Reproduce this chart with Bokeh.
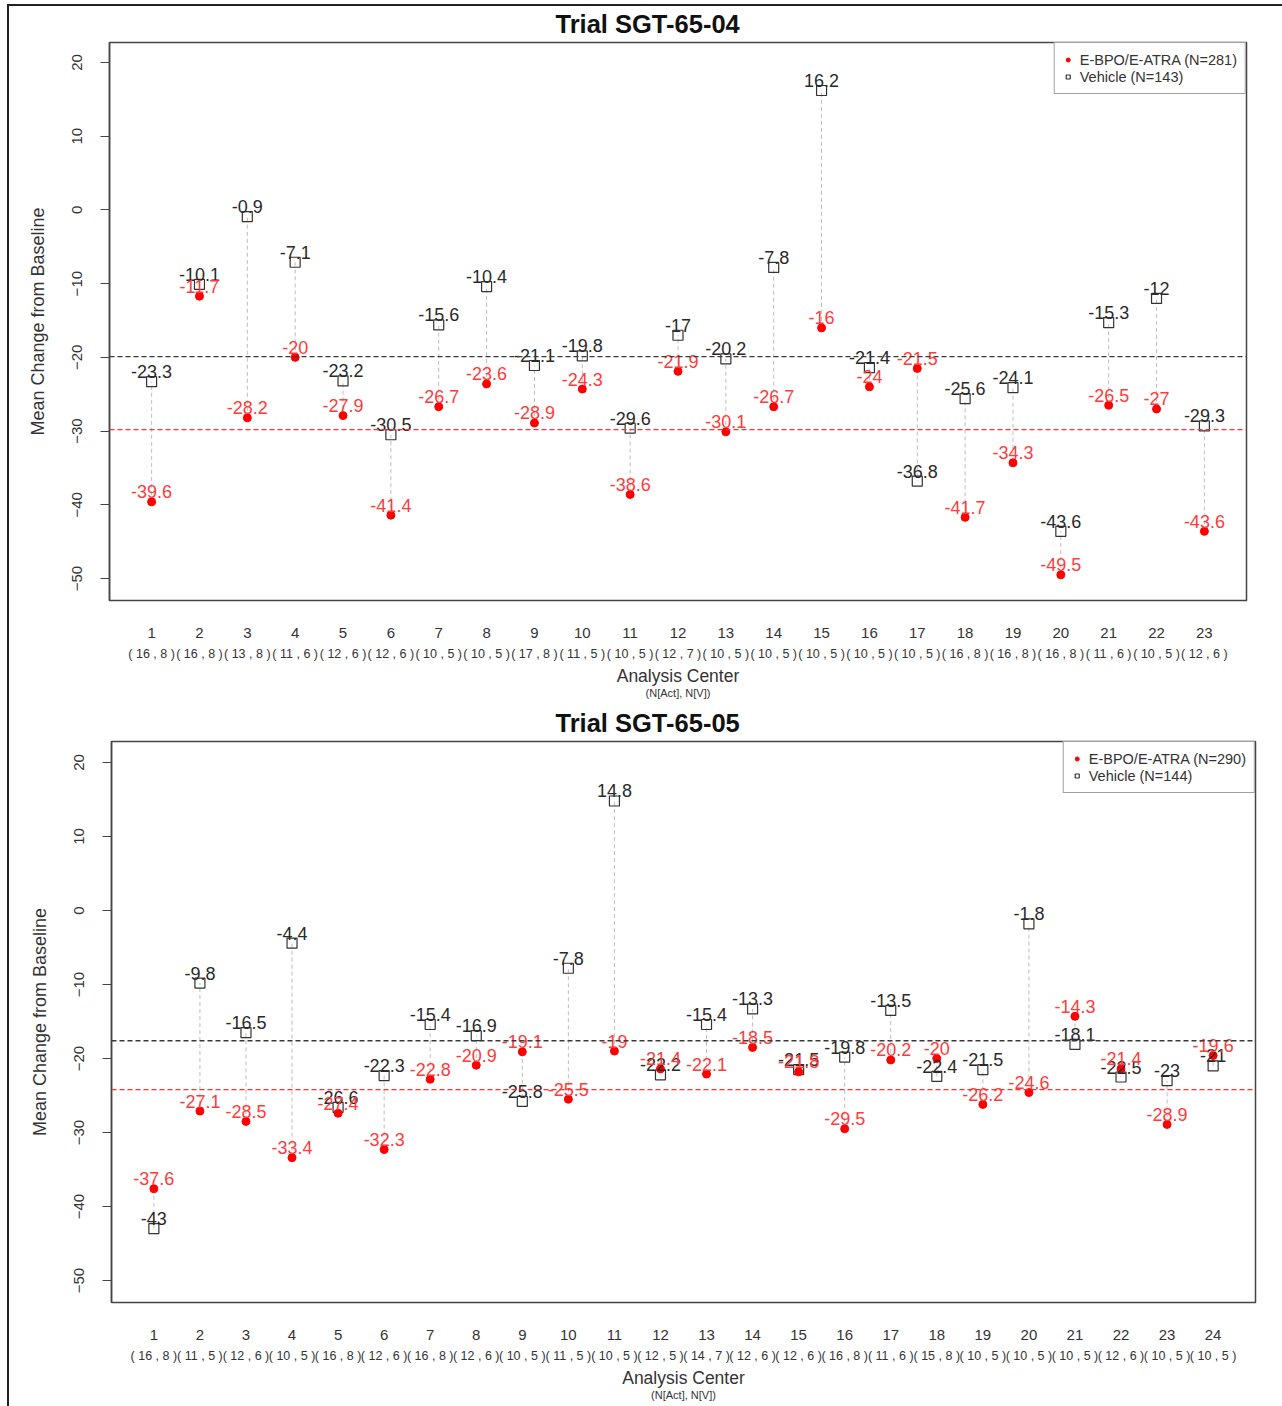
from bokeh.plotting import figure
from bokeh.models import (Range1d, FixedTicker, LinearAxis, Span, Legend,
                          LegendItem, ColumnDataSource)
from bokeh.layouts import column, row
from bokeh.embed import file_html
from bokeh.resources import INLINE
from bokeh.core.properties import value

# ---------------- Trial SGT-65-04 ----------------
centers_04 = list(range(1, 24))
act_04 = [-39.6, -11.7, -28.2, -20, -27.9, -41.4, -26.7, -23.6, -28.9, -24.3,
          -38.6, -21.9, -30.1, -26.7, -16, -24, -21.5, -41.7, -34.3, -49.5,
          -26.5, -27, -43.6]
veh_04 = [-23.3, -10.1, -0.9, -7.1, -23.2, -30.5, -15.6, -10.4, -21.1, -19.8,
          -29.6, -17, -20.2, -7.8, 16.2, -21.4, -36.8, -25.6, -24.1, -43.6,
          -15.3, -12, -29.3]
n_act_04 = [16, 16, 13, 11, 12, 12, 10, 10, 17, 11, 10, 12, 10, 10, 10, 10, 10,
            16, 16, 16, 11, 10, 12]
n_veh_04 = [8, 8, 8, 6, 6, 6, 5, 5, 8, 5, 5, 7, 5, 5, 5, 5, 5, 8, 8, 8, 6, 5, 6]
act_mean_04 = -29.8
veh_mean_04 = -19.9
act_total_04 = 281
veh_total_04 = 143

# ---------------- Trial SGT-65-05 ----------------
centers_05 = list(range(1, 25))
act_05 = [-37.6, -27.1, -28.5, -33.4, -27.4, -32.3, -22.8, -20.9, -19.1, -25.5,
          -19, -21.4, -22.1, -18.5, -21.8, -29.5, -20.2, -20, -26.2, -24.6,
          -14.3, -21.4, -28.9, -19.6]
veh_05 = [-43, -9.8, -16.5, -4.4, -26.6, -22.3, -15.4, -16.9, -25.8, -7.8,
          14.8, -22.2, -15.4, -13.3, -21.5, -19.8, -13.5, -22.4, -21.5, -1.8,
          -18.1, -22.5, -23, -21]
n_act_05 = [16, 11, 12, 10, 16, 12, 16, 12, 10, 11, 10, 12, 14, 12, 12, 16, 11,
            15, 10, 10, 10, 12, 10, 10]
n_veh_05 = [8, 5, 6, 5, 8, 6, 8, 6, 5, 5, 5, 5, 7, 6, 6, 8, 6, 8, 5, 5, 5, 6, 5, 5]
act_mean_05 = -24.2
veh_mean_05 = -17.6
act_total_05 = 290
veh_total_05 = 144

y_ticks = [-50, -40, -30, -20, -10, 0, 10, 20]

FONT = value("Liberation Sans")
DARK = "#333333"
RED = "#ff0000"
RED_TXT = "#ff3b3b"


def fmt(v):
    return f"{v:g}"


def panel(title, centers, act, veh, n_act, n_veh, act_mean, veh_mean,
          act_total, veh_total, width, height, borders, x_range, y_range,
          title_offset):
    left, right, top, bottom = borders
    p = figure(width=width, height=height, output_backend="svg",
               toolbar_location=None, x_range=Range1d(*x_range),
               y_range=Range1d(*y_range), min_border_left=left,
               min_border_right=right, min_border_top=top,
               min_border_bottom=bottom, x_axis_location=None,
               y_axis_location=None)
    p.grid.visible = False
    p.outline_line_color = "#444444"
    p.outline_line_width = 1.5
    p.background_fill_color = "white"
    p.border_fill_color = "white"

    p.title.text = title
    p.title.text_font = "Liberation Sans"
    p.title.text_font_size = "25.5px"
    p.title.text_font_style = "bold"
    p.title.text_color = "#111111"
    p.title.align = "left"
    p.title.vertical_align = "top"
    p.title.offset = title_offset
    p.title.standoff = 6

    # y axis
    yax = LinearAxis(ticker=FixedTicker(ticks=y_ticks),
                     axis_label="Mean Change from Baseline")
    yax.axis_line_color = "#444444"
    yax.axis_line_width = 1.5
    yax.major_tick_out = 9
    yax.major_tick_in = 0
    yax.major_tick_line_color = "#444444"
    yax.minor_tick_line_color = None
    yax.major_label_orientation = "vertical"
    yax.major_label_standoff = 18
    yax.major_label_text_font = "Liberation Sans"
    yax.major_label_text_font_size = "15px"
    yax.major_label_text_color = DARK
    yax.axis_label_text_font = "Liberation Sans"
    yax.axis_label_text_font_size = "18px"
    yax.axis_label_text_font_style = "normal"
    yax.axis_label_text_color = DARK
    yax.axis_label_standoff = 22
    p.add_layout(yax, "left")

    # x axis: centre numbers
    xax = LinearAxis(ticker=FixedTicker(ticks=centers))
    xax.axis_line_color = None
    xax.major_tick_line_color = None
    xax.minor_tick_line_color = None
    xax.major_tick_out = 0
    xax.major_tick_in = 0
    xax.major_label_standoff = 27
    xax.major_label_overrides = {c: str(c) for c in centers}
    xax.major_label_text_font = "Liberation Sans"
    xax.major_label_text_font_size = "15px"
    xax.major_label_text_color = DARK
    p.add_layout(xax, "below")

    # x axis: subject counts per centre
    nax = LinearAxis(ticker=FixedTicker(ticks=centers),
                     axis_label="Analysis Center")
    nax.axis_line_color = None
    nax.major_tick_line_color = None
    nax.minor_tick_line_color = None
    nax.major_tick_out = 0
    nax.major_tick_in = 0
    nax.major_label_standoff = 6
    nax.major_label_overrides = {c: f"( {a} , {b} )"
                                 for c, a, b in zip(centers, n_act, n_veh)}
    nax.major_label_text_font = "Liberation Sans"
    nax.major_label_text_font_size = "12.5px"
    nax.major_label_text_color = DARK
    nax.axis_label_text_font = "Liberation Sans"
    nax.axis_label_text_font_size = "17.5px"
    nax.axis_label_text_font_style = "normal"
    nax.axis_label_text_color = DARK
    nax.axis_label_standoff = 2
    p.add_layout(nax, "below")

    sub = LinearAxis(ticker=FixedTicker(ticks=[]), axis_label="(N[Act], N[V])")
    sub.axis_line_color = None
    sub.major_tick_line_color = None
    sub.minor_tick_line_color = None
    sub.major_tick_out = 0
    sub.major_tick_in = 0
    sub.major_label_standoff = 0
    sub.axis_label_standoff = -2
    sub.axis_label_text_font = "Liberation Sans"
    sub.axis_label_text_font_size = "11px"
    sub.axis_label_text_font_style = "normal"
    sub.axis_label_text_color = DARK
    p.add_layout(sub, "below")

    src = ColumnDataSource(dict(
        x=centers, act=act, veh=veh,
        act_lbl=[fmt(v) for v in act], veh_lbl=[fmt(v) for v in veh]))

    # connectors between the two arms at each centre
    p.segment(x0="x", y0="act", x1="x", y1="veh", source=src,
              line_color="#bdbdbd", line_dash="4 3", line_width=1)

    # overall mean lines
    p.add_layout(Span(location=veh_mean, dimension="width",
                      line_color="#3a3a3a", line_dash="5 3", line_width=1.4))
    p.add_layout(Span(location=act_mean, dimension="width",
                      line_color="#ff3030", line_dash="5 3", line_width=1.4))

    p.scatter(x="x", y="veh", source=src, marker="square", size=10,
              fill_color=None, line_color=DARK, line_width=1.2)
    p.scatter(x="x", y="act", source=src, marker="circle", size=8,
              fill_color=RED, line_color=RED)

    p.text(x="x", y="veh", text="veh_lbl", source=src, text_align="center",
           text_baseline="middle", y_offset=-10, text_font=FONT,
           text_font_size="18px", text_color="#2a2a2a")
    p.text(x="x", y="act", text="act_lbl", source=src, text_align="center",
           text_baseline="middle", y_offset=-10, text_font=FONT,
           text_font_size="18px", text_color=RED_TXT)

    # legend glyphs (placeholder point outside the visible range)
    key = ColumnDataSource(dict(x=[float("nan")], y=[float("nan")]))
    la = p.scatter(x="x", y="y", source=key, marker="circle", size=6,
                   fill_color=RED, line_color=RED)
    lv = p.scatter(x="x", y="y", source=key, marker="square", size=8,
                   fill_color=None, line_color=DARK, line_width=1.2)
    legend = Legend(items=[
        LegendItem(label=f"E-BPO/E-ATRA (N={act_total})", renderers=[la]),
        LegendItem(label=f"Vehicle (N={veh_total})", renderers=[lv])],
        location="top_right", margin=0, padding=8, spacing=0,
        glyph_width=10, glyph_height=17, label_height=17, label_standoff=7,
        label_text_font="Liberation Sans", label_text_font_size="14.5px",
        label_text_color=DARK, border_line_color="#444444",
        border_line_width=1.5, background_fill_alpha=1)
    p.add_layout(legend, "center")
    return p


top = panel("Trial SGT-65-04", centers_04, act_04, veh_04, n_act_04, n_veh_04,
            act_mean_04, veh_mean_04, act_total_04, veh_total_04,
            width=1273, height=697, borders=(100, 36, 36, 103),
            x_range=(0.12, 23.88), y_range=(-52.98, 22.71), title_offset=446)
bot = panel("Trial SGT-65-05", centers_05, act_05, veh_05, n_act_05, n_veh_05,
            act_mean_05, veh_mean_05, act_total_05, veh_total_05,
            width=1273, height=703, borders=(102, 27, 38, 104),
            x_range=(0.08, 24.92), y_range=(-52.97, 22.84), title_offset=444)

# each panel sits in its own row so the two frames keep their own margins
layout = column(row(top), row(bot), margin=(4, 0, 0, 7),
                styles={"border-left": "2px solid #222222",
                        "border-top": "2px solid #222222"})

open("out.html", "w").write(file_html(layout, INLINE))
